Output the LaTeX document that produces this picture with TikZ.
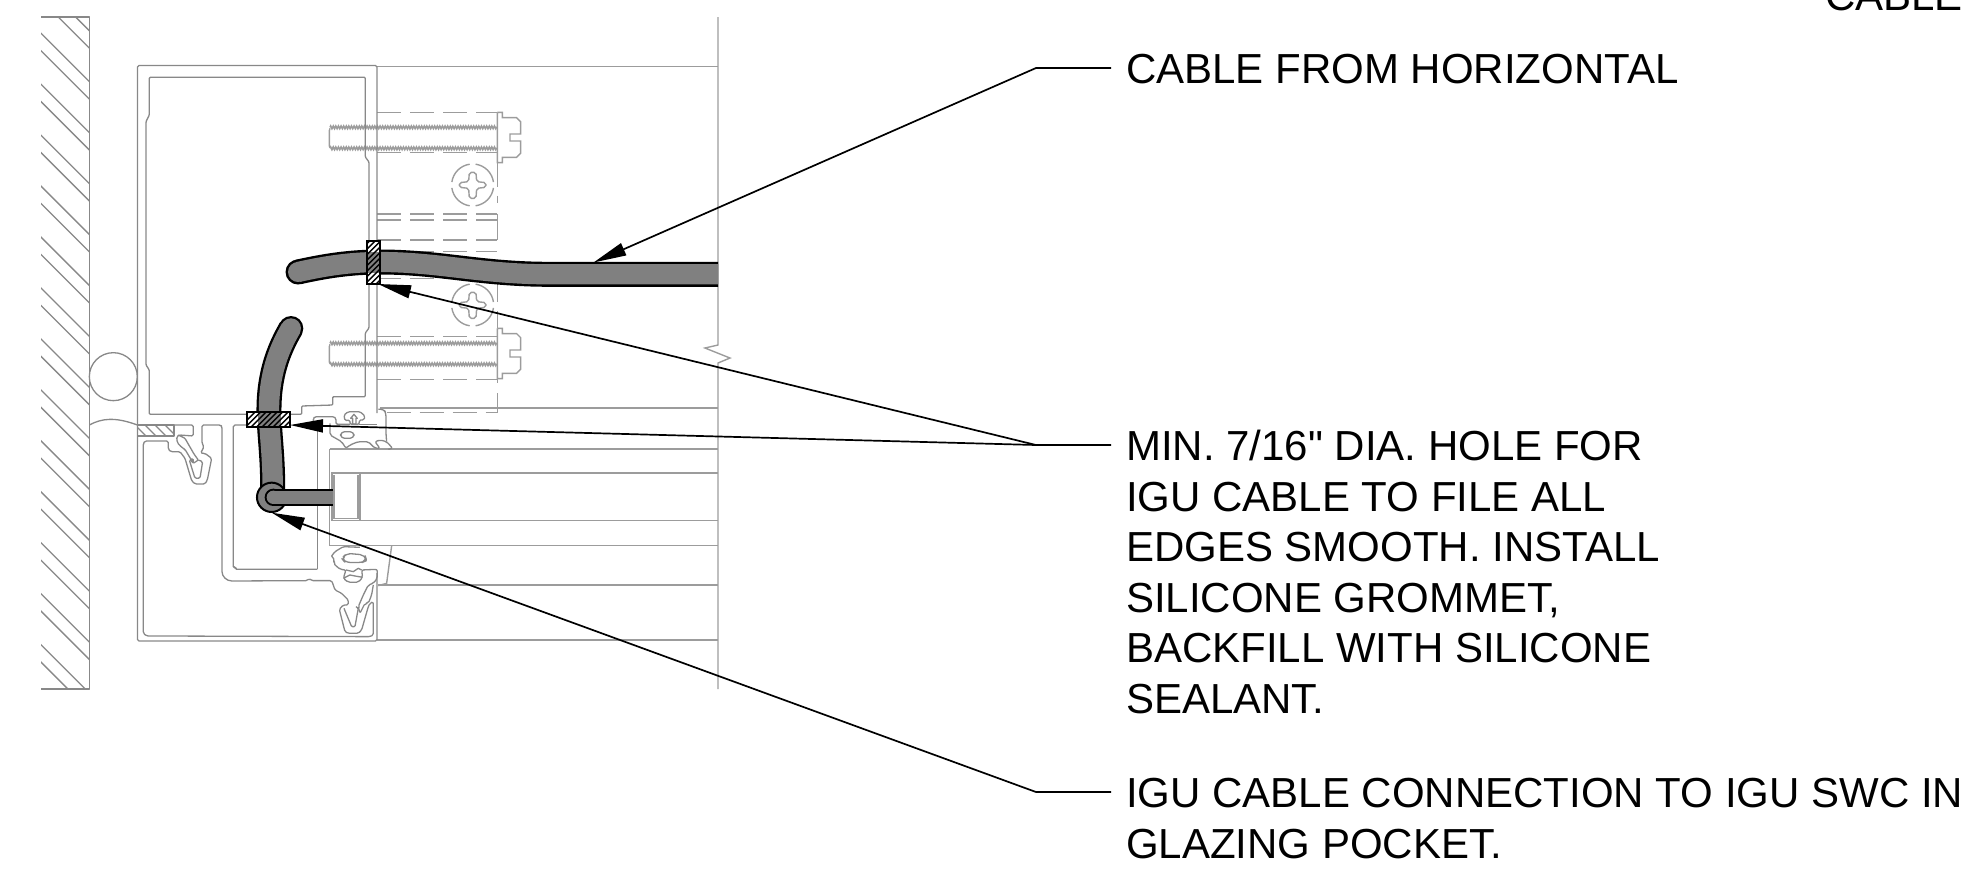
\documentclass[tikz,border=0pt]{standalone}
\usepackage{fontspec}
\newfontfamily\labfont{Liberation Sans}
\usetikzlibrary{arrows.meta,decorations.pathmorphing}
\definecolor{ln}{HTML}{888888}
\definecolor{lnb}{HTML}{9C9C9C}
\definecolor{cab}{HTML}{808080}
\tikzset{
  thin line/.style={draw=ln,line width=1.3pt,line join=round},
  pale line/.style={draw=lnb,line width=1.4pt},
  dash line/.style={draw=lnb,line width=1.4pt,dash pattern=on 24pt off 9pt},
  thread/.style={draw=lnb,line width=1.6pt,decorate,decoration={zigzag,segment length=2.6pt,amplitude=1.3pt}},
  leader/.style={draw=black,line width=1.7pt,-{Triangle[length=33pt,width=13pt,fill=black]}},
  label text/.style={font=\labfont\fontsize{42pt}{50.5pt}\selectfont,anchor=north west,inner sep=0pt,align=left},
  zoomtwo/.style={shift={(30,300)},x=0.3333pt,y=-0.3333pt},
  zoomthree/.style={shift={(320,60)},x=0.3333pt,y=-0.3333pt},
}
\begin{document}
\begin{tikzpicture}[x=1pt,y=-1pt]
\useasboundingbox (0,0) rectangle (1964,871);
% wall
\begin{scope}
\clip (41,17) rectangle (89.5,689);
\foreach \c in {-13,...,13}{
  \draw[thin line] (30,{30-7.7+50.95*\c}) -- (100,{100-7.7+50.95*\c});
  \draw[thin line] (30,{30+9.7+50.95*\c}) -- (100,{100+9.7+50.95*\c});
}
\end{scope}
\draw[thin line] (41,17) -- (89.5,17) -- (89.5,689) -- (41,689);
% right break line and horizontals
\draw[pale line] (718,17) -- (718,345) -- (705,348) -- (730,358) -- (718,363) -- (718,689);
\draw[pale line] (377,66.5) -- (718,66.5);
\draw[pale line] (380,408) -- (718,408);
\draw[pale line] (329.5,449) -- (718,449);
\draw[pale line] (332,473) -- (718,473);
\draw[pale line] (332,520.5) -- (718,520.5);
\draw[pale line] (329.5,449) -- (329.5,545.5) -- (718,545.5);
\draw[pale line] (378,585) -- (718,585);
\draw[pale line] (377,640) -- (718,640);
\draw[pale line] (332,473) rectangle (360,520.5);
\draw[pale line] (334,475) -- (334,518.5) -- (358,518.5) -- (358,475);
\begin{scope}[zoomthree]
% dashed structure
\foreach \yy in {157,278,462,480,540,575,655,830,958}{
  \draw[dash line] (172,\yy) -- (532,\yy);
}
\draw[dash line] (532,308) -- (532,430);
\draw[pale line] (532,462) -- (532,540);
\draw[dash line] (532,655) -- (532,805);
\draw[pale line] (532,958) -- (532,968);
\draw[pale line] (532,1000) -- (532,1058);
\foreach \ty in {0,648}{
  \begin{scope}[yshift=-\ty*0.3333pt]
  \draw[thread] (30,202) -- (532,202);
  \draw[thread] (30,265) -- (532,265);
  \draw[pale line] (30,205) -- (28,212) -- (28,258) -- (30,263);
  \draw[pale line] (532,157) -- (547,157) -- (547,173) -- (590,173) -- (602,185) -- (602,222) -- (570,222) -- (570,243) -- (602,243) -- (602,280) -- (590,292) -- (547,292) -- (547,308) -- (532,308) -- (532,157);
  \end{scope}
}
\foreach \cy in {375,735}{
  \begin{scope}[yshift=-\cy*0.3333pt]
  \foreach \a in {8,98,188,278}{
    \draw[pale line] ({458+63*cos(\a)},{63*sin(\a)}) arc[start angle=\a,end angle=\a+74,radius=63];
  }
  \draw[pale line,rounded corners=2pt] (448,-38) -- (468,-38) -- (470,-10) -- (498,-7) -- (498,7) -- (470,10) -- (468,40) -- (448,40) -- (446,10) -- (418,7) -- (418,-7) -- (446,-10) -- cycle;
  \end{scope}
}
\end{scope}
% upper frame
\draw[thin line,rounded corners=1.5pt] (377,413) -- (377,65.5) -- (137.5,65.5) -- (137.5,641) -- (377,641) -- (377,573);
\draw[thin line,rounded corners=1pt] (149.3,115) -- (149.3,77.3) -- (365.3,77.3) -- (365.3,157) -- (369,162) -- (369,328) -- (365.3,333) -- (365.3,396.7) -- (332.7,396.7) -- (332.7,405) -- (301.7,406) -- (301.7,414.3) -- (149.3,414.3) -- (149.3,370) -- (146,365) -- (146,121.7) -- cycle;
\begin{scope}[zoomtwo]
% seal
\draw[thin line] (250,230) circle[radius=72];
\draw[thin line] (178,375) .. controls (215,355) and (255,350) .. (322,375);
% hatched sill
\begin{scope}
\clip (322,375) rectangle (432,408);
\foreach \k in {-2,...,8}{ \draw[thin line] ({300+\k*30},360) -- ({360+\k*30},420); }
\end{scope}
\draw[thin line] (322,375) rectangle (432,408);
% upper-left clip
\draw[thin line,rounded corners=1.5pt] (432,375) -- (490,375) -- (490,408) -- (448,405) -- (440,410) -- (442,428) -- (455,442) -- (465,448) -- (490,490) -- (490,475) -- (478,480) -- (495,535) -- (510,535) -- (518,485) -- (505,480);
\draw[thin line,rounded corners=1.5pt] (340,1000) -- (340,430) -- (345,423) -- (415,423) -- (415,448) -- (422,455) -- (450,455) -- (465,475) -- (485,542) -- (495,552) -- (525,552) -- (532,540) -- (545,475) -- (525,460) -- (512,460) -- (522,440) -- (516,430) -- (516,375) -- (572,375) -- (576,380) -- (576,810) .. controls (576,830) and (590,843) .. (610,843) -- (832,842) -- (838,835) -- (845,842) -- (905,842) -- (910,855) -- (915,870) -- (935,880) -- (955,900) -- (955,915) -- (940,915) -- (928,928) -- (945,995) -- (955,1000) -- (985,1000) -- (995,990) -- (1015,920) -- (1020,910) -- (1030,905) -- (1030,1005) -- (1020,1010) -- (350,1008) -- cycle;
\draw[thin line,rounded corners=1pt] (445,405) -- (465,415) -- (492,462) -- (505,480) -- (490,490) -- (482,480);
\draw[thin line,rounded corners=1pt] (942,925) -- (965,980) -- (975,980) -- (985,925) -- (978,920);
% pocket
\draw[thin line] (650,375) -- (615,375) -- (610,380) -- (610,800) -- (620,808) -- (862,808);
\draw[thin line] (862,375) -- (862,808);
\draw[thin line] (612,800) -- (620,806);
% upper gasket
\draw[thin line,rounded corners=1.5pt] (850,370) -- (850,355) -- (855,350) -- (912,350) -- (918,355) -- (918,373) -- (960,373);
\draw[thin line] (988,373) -- (1042,373);
\draw[thin line,rounded corners=1.5pt] (942,345) -- (955,335) -- (990,335) -- (1005,348) -- (1002,360) -- (988,360) -- (988,373) -- (960,373) -- (960,360) -- (945,362) -- cycle;
\draw[thin line] (962,355) -- (972,343) -- (982,355) -- (978,355) -- (978,372) -- (968,372) -- (968,355) -- cycle;
\draw[thin line,rounded corners=2pt] (900,370) -- (900,405) -- (935,425) -- (948,445) -- (960,435) -- (985,425) -- (1015,425) -- (1035,445) -- (1050,445) -- (1035,425) -- (1050,420) -- (1070,425) -- (1088,445) -- (1075,448);
\draw[thin line,rounded corners=4pt] (932,395) rectangle (972,415);
\draw[thin line,rounded corners=3pt] (1045,328) -- (1062,328) -- (1068,340) -- (1068,400) -- (1070,425);
\draw[dash line] (1070,338) -- (1401,338);
% lower gasket
\draw[thin line,rounded corners=1.5pt] (905,768) -- (915,755) -- (940,740) -- (990,742);
\draw[pale line] (1085,738) -- (1070,850) -- (1045,857);
\draw[thin line,rounded corners=2pt] (905,768) -- (915,782) -- (910,790) -- (930,808) -- (948,810) -- (940,835) -- (955,847) -- (985,847) -- (998,832) -- (995,810) -- (1042,808) -- (1042,835) -- (1030,850) -- (1015,855) -- (1000,885) -- (985,920) -- (990,940) -- (1005,910) -- (1015,910) -- (1025,885) -- (1030,855);
\draw[thin line] (948,810) -- (970,815) -- (985,805) -- (995,810);
\draw[thin line] (940,835) -- (960,825) -- (975,828) -- (998,832);
\draw[thin line,rounded corners=5pt] (935,775) -- (950,760) -- (1005,765) -- (1010,782) -- (995,788) -- (945,787) -- cycle;
% connector rod cable
\fill[black] (783,85) circle[radius=37];
\draw[black,line width=25pt] (783,85) .. controls (745,150) and (717,225) .. (717,330) .. controls (717,400) and (730,470) .. (728,590);
\fill[cab] (783,85) circle[radius=30];
\draw[cab,line width=20.4pt] (783,85) .. controls (745,150) and (717,225) .. (717,330) .. controls (717,400) and (730,470) .. (728,590);
\fill[cab,draw=black,line width=2pt] (725,592) circle[radius=44];
\fill[black] (730,592) circle[radius=26];
\fill[black] (730,567) rectangle (910,617);
\fill[cab] (730,592) circle[radius=20];
\fill[cab] (730,573) rectangle (910,611);
\end{scope}
% horizontal cable
\fill[black] (298,272) circle[radius=12.5];
\draw[black,line width=25pt] (298,272) .. controls (325,266) and (350,262) .. (380,262) .. controls (440,262) and (480,274.3) .. (550,274.3) -- (718,274.3);
\fill[cab] (298,272) circle[radius=10];
\draw[cab,line width=20.2pt] (298,272) .. controls (325,266) and (350,262) .. (380,262) .. controls (440,262) and (480,274.3) .. (550,274.3) -- (718,274.3);
% grommets
\fill[white] (367,241) rectangle (380,284);
\fill[cab] (367,252) rectangle (380,273);
\begin{scope}
\clip (367,241) rectangle (380,284);
\foreach \k in {0,...,12}{ \draw[black,line width=1.4pt] (360,{245+\k*5.5}) -- (390,{215+\k*5.5}); }
\end{scope}
\draw[black,line width=1.7pt] (367,241) rectangle (380,284);
\fill[white] (247,412) rectangle (290,427);
\fill[cab] (257.7,412) rectangle (280.7,427);
\begin{scope}
\clip (247,412) rectangle (290,427);
\foreach \k in {0,...,12}{ \draw[black,line width=1.4pt] ({235+\k*5.5},432) -- ({260+\k*5.5},407); }
\end{scope}
\draw[black,line width=1.7pt] (247,412) rectangle (290,427);
% labels
\node[label text] (top) at (1825,-19) {CABLE};
\node[label text] (n1) at (1126,54) {CABLE FROM HORIZONTAL};
\node[label text] (n2) at (1126,430) {MIN. 7/16" DIA. HOLE FOR\\IGU CABLE TO FILE ALL\\EDGES SMOOTH. INSTALL\\SILICONE GROMMET,\\BACKFILL WITH SILICONE\\SEALANT.};
\node[label text] (n3) at (1126,778) {IGU CABLE CONNECTION TO IGU SWC IN\\GLAZING POCKET.};
% leaders
\coordinate (s1) at (1111,68); \coordinate (e1) at (1036,68); \coordinate (t1) at (593.5,262.5);
\coordinate (s2) at (1111,445); \coordinate (e2) at (1036,445); \coordinate (t2a) at (378,284); \coordinate (t2b) at (290,425);
\coordinate (s3) at (1111,792); \coordinate (e3) at (1036,792); \coordinate (t3) at (271.7,512.7);
\draw[leader] (s1) -- (e1) -- (t1);
\draw[leader] (s2) -- (e2) -- (t2a);
\draw[leader] (e2) -- (t2b);
\draw[leader] (s3) -- (e3) -- (t3);
\end{tikzpicture}
\end{document}
